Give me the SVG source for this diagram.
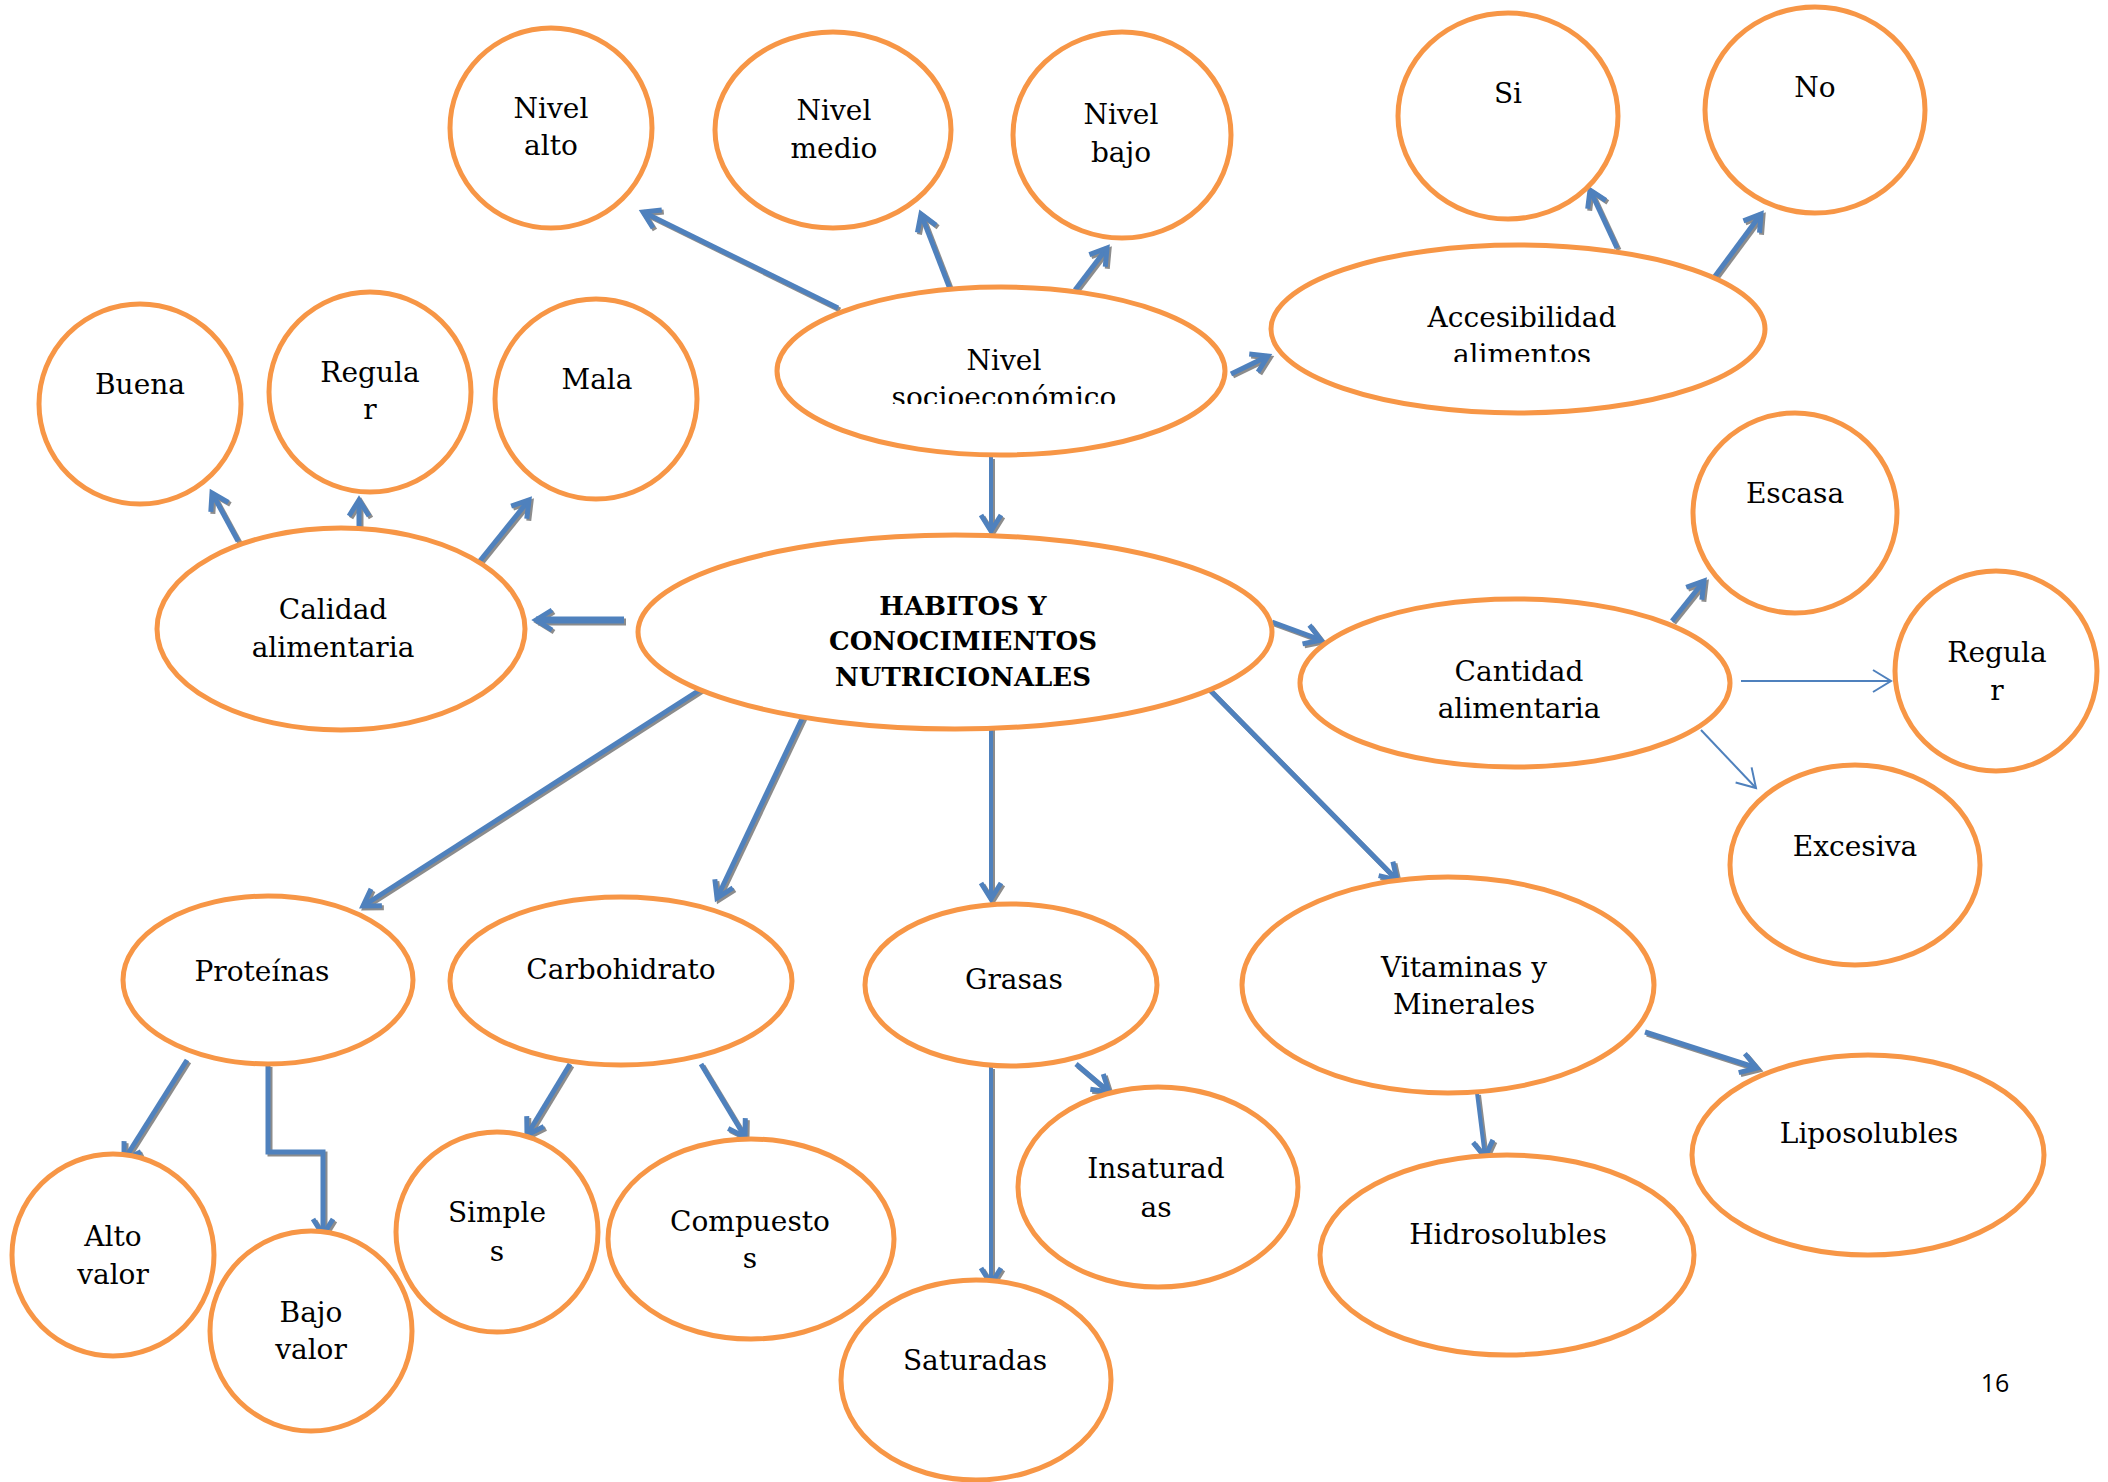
<svg xmlns="http://www.w3.org/2000/svg" width="2108" height="1482" viewBox="0 0 2108 1482">
<style>
.node ellipse{fill:#fff;stroke:#F79646;stroke-width:5}
.node text{font-family:"DejaVu Serif","Liberation Serif",serif;font-size:28px;fill:#000;text-anchor:middle}
.node text.b{font-weight:bold;font-size:26px}
.sh{fill:none;stroke:#8c8c8c;stroke-width:5;marker-end:url(#arrS)}
.ln{fill:none;stroke:#4F81BD;stroke-width:5;marker-end:url(#arrB)}
.m{stroke-width:4}
.w{stroke-width:7}
.thin{fill:none;stroke:#4F81BD;stroke-width:2;marker-end:url(#arrT)}
.pg{font-family:"Open Sans","Liberation Sans",sans-serif;font-size:25px;fill:#000;text-anchor:middle}
</style>
<defs>
<marker id="arrB" markerUnits="userSpaceOnUse" viewBox="-22 -14 26 28" markerWidth="26" markerHeight="28" refX="0" refY="0" orient="auto" overflow="visible">
<path d="M-16,-10 L0,0 L-16,10" fill="none" stroke="#4F81BD" stroke-width="5"/>
</marker>
<marker id="arrS" markerUnits="userSpaceOnUse" viewBox="-22 -14 26 28" markerWidth="26" markerHeight="28" refX="0" refY="0" orient="auto" overflow="visible">
<path d="M-16,-10 L0,0 L-16,10" fill="none" stroke="#8c8c8c" stroke-width="5"/>
</marker>
<marker id="arrT" markerUnits="userSpaceOnUse" viewBox="-22 -14 26 28" markerWidth="26" markerHeight="28" refX="0" refY="0" orient="auto" overflow="visible">
<path d="M-18,-11 L0,0 L-18,11" fill="none" stroke="#4F81BD" stroke-width="2"/>
</marker>
<clipPath id="clipSocio"><rect x="779" y="287" width="446" height="117"/></clipPath>
<clipPath id="clipAcc"><rect x="1271" y="245" width="494" height="117"/></clipPath>
</defs>
<rect width="2108" height="1482" fill="#fff"/>

<g id="connectors">
<g id="shadows" transform="translate(2,2)">
<path class="sh" d="M838,308 L643,212"/>
<path class="sh" d="M950,289 L921,214"/>
<path class="sh" d="M1075,290 L1107,248"/>
<path class="sh" d="M1231,374 L1268,356"/>
<path class="sh" d="M1617,248 L1590,190"/>
<path class="sh" d="M1707,287 L1761,214"/>
<path class="sh m" d="M991,457 L991,531"/>
<path class="sh w" d="M624,620 L536,620"/>
<path class="sh" d="M238,541 L212,493"/>
<path class="sh" d="M359,532 L359,500"/>
<path class="sh" d="M479,562 L529,500"/>
<path class="sh" d="M1272,622 L1321,640"/>
<path class="sh" d="M1672,621 L1704,581"/>
<path class="sh" d="M712,682 L363,906"/>
<path class="sh" d="M808,706 L717,898"/>
<path class="sh m" d="M991,720 L991,899"/>
<path class="sh" d="M1203,683 L1397,880"/>
<path class="sh" d="M187,1060 L124,1160"/>
<path class="sh" d="M268,1065 L268,1152 L323,1152 L323,1235"/>
<path class="sh" d="M570,1064 L527,1135"/>
<path class="sh" d="M701,1064 L745,1137"/>
<path class="sh m" d="M991,1067 L991,1284"/>
<path class="sh" d="M1076,1064 L1109,1092"/>
<path class="sh m" d="M1477,1093 L1485,1157"/>
<path class="sh" d="M1645,1032 L1757,1068"/>
</g>
<g id="lines">
<path class="ln" d="M838,308 L643,212"/>
<path class="ln" d="M950,289 L921,214"/>
<path class="ln" d="M1075,290 L1107,248"/>
<path class="ln" d="M1231,374 L1268,356"/>
<path class="ln" d="M1617,248 L1590,190"/>
<path class="ln" d="M1707,287 L1761,214"/>
<path class="ln m" d="M991,457 L991,531"/>
<path class="ln w" d="M624,620 L536,620"/>
<path class="ln" d="M238,541 L212,493"/>
<path class="ln" d="M359,532 L359,500"/>
<path class="ln" d="M479,562 L529,500"/>
<path class="ln" d="M1272,622 L1321,640"/>
<path class="ln" d="M1672,621 L1704,581"/>
<path class="thin" d="M1741,681 L1891,681"/>
<path class="thin" d="M1701,730 L1756,788"/>
<path class="ln" d="M712,682 L363,906"/>
<path class="ln" d="M808,706 L717,898"/>
<path class="ln m" d="M991,720 L991,899"/>
<path class="ln" d="M1203,683 L1397,880"/>
<path class="ln" d="M187,1060 L124,1160"/>
<path class="ln" d="M268,1065 L268,1152 L323,1152 L323,1235"/>
<path class="ln" d="M570,1064 L527,1135"/>
<path class="ln" d="M701,1064 L745,1137"/>
<path class="ln m" d="M991,1067 L991,1284"/>
<path class="ln" d="M1076,1064 L1109,1092"/>
<path class="ln m" d="M1477,1093 L1485,1157"/>
<path class="ln" d="M1645,1032 L1757,1068"/>
</g>
</g>

<g id="n-nivel-alto" class="node"><ellipse cx="551" cy="128" rx="101" ry="100"/><text x="551" y="118">Nivel</text><text x="551" y="155">alto</text></g>
<g id="n-nivel-medio" class="node"><ellipse cx="833" cy="130" rx="118" ry="98"/><text x="834" y="120">Nivel</text><text x="834" y="158">medio</text></g>
<g id="n-nivel-bajo" class="node"><ellipse cx="1122" cy="135" rx="109" ry="103"/><text x="1121" y="124">Nivel</text><text x="1121" y="162">bajo</text></g>
<g id="n-si" class="node"><ellipse cx="1508" cy="116" rx="110" ry="103"/><text x="1508" y="103">Si</text></g>
<g id="n-no" class="node"><ellipse cx="1815" cy="110" rx="110" ry="103"/><text x="1815" y="97">No</text></g>
<g id="n-nivel-socio" class="node"><ellipse cx="1001" cy="371" rx="224" ry="84"/><g clip-path="url(#clipSocio)"><text x="1004" y="370">Nivel</text><text x="1004" y="407">socioeconómico</text></g></g>
<g id="n-accesibilidad" class="node"><ellipse cx="1518" cy="329" rx="247" ry="84"/><g clip-path="url(#clipAcc)"><text x="1522" y="327">Accesibilidad</text><text x="1522" y="364">alimentos</text></g></g>
<g id="n-buena" class="node"><ellipse cx="140" cy="404" rx="101" ry="100"/><text x="140" y="394">Buena</text></g>
<g id="n-regular-cal" class="node"><ellipse cx="370" cy="392" rx="101" ry="100"/><text x="370" y="382">Regula</text><text x="370" y="419">r</text></g>
<g id="n-mala" class="node"><ellipse cx="596" cy="399" rx="101" ry="100"/><text x="597" y="389">Mala</text></g>
<g id="n-calidad" class="node"><ellipse cx="341" cy="629" rx="184" ry="101"/><text x="333" y="619">Calidad</text><text x="333" y="657">alimentaria</text></g>
<g id="n-habitos" class="node"><ellipse cx="955" cy="632" rx="317" ry="97"/><text class="b" x="963" y="615">HABITOS Y</text><text class="b" x="963" y="650">CONOCIMIENTOS</text><text class="b" x="963" y="686">NUTRICIONALES</text></g>
<g id="n-escasa" class="node"><ellipse cx="1795" cy="513" rx="102" ry="100"/><text x="1795" y="503">Escasa</text></g>
<g id="n-cantidad" class="node"><ellipse cx="1515" cy="683" rx="215" ry="84"/><text x="1519" y="681">Cantidad</text><text x="1519" y="718">alimentaria</text></g>
<g id="n-regular-cant" class="node"><ellipse cx="1996" cy="671" rx="101" ry="100"/><text x="1997" y="662">Regula</text><text x="1997" y="700">r</text></g>
<g id="n-excesiva" class="node"><ellipse cx="1855" cy="865" rx="125" ry="100"/><text x="1855" y="856">Excesiva</text></g>
<g id="n-proteinas" class="node"><ellipse cx="268" cy="980" rx="145" ry="84"/><text x="262" y="981">Proteínas</text></g>
<g id="n-carbohidrato" class="node"><ellipse cx="621" cy="981" rx="171" ry="84"/><text x="621" y="979">Carbohidrato</text></g>
<g id="n-grasas" class="node"><ellipse cx="1011" cy="985" rx="146" ry="81"/><text x="1014" y="989">Grasas</text></g>
<g id="n-vitaminas" class="node"><ellipse cx="1448" cy="985" rx="206" ry="108"/><text x="1464" y="977">Vitaminas y</text><text x="1464" y="1014">Minerales</text></g>
<g id="n-alto-valor" class="node"><ellipse cx="113" cy="1255" rx="101" ry="101"/><text x="113" y="1246">Alto</text><text x="113" y="1284">valor</text></g>
<g id="n-bajo-valor" class="node"><ellipse cx="311" cy="1331" rx="101" ry="100"/><text x="311" y="1322">Bajo</text><text x="311" y="1359">valor</text></g>
<g id="n-simples" class="node"><ellipse cx="497" cy="1232" rx="101" ry="100"/><text x="497" y="1222">Simple</text><text x="497" y="1261">s</text></g>
<g id="n-compuestos" class="node"><ellipse cx="751" cy="1239" rx="143" ry="100"/><text x="750" y="1231">Compuesto</text><text x="750" y="1268">s</text></g>
<g id="n-insaturadas" class="node"><ellipse cx="1158" cy="1187" rx="140" ry="100"/><text x="1156" y="1178">Insaturad</text><text x="1156" y="1217">as</text></g>
<g id="n-saturadas" class="node"><ellipse cx="976" cy="1380" rx="135" ry="100"/><text x="975" y="1370">Saturadas</text></g>
<g id="n-hidrosolubles" class="node"><ellipse cx="1507" cy="1255" rx="187" ry="100"/><text x="1508" y="1244">Hidrosolubles</text></g>
<g id="n-liposolubles" class="node"><ellipse cx="1868" cy="1155" rx="176" ry="100"/><text x="1869" y="1143">Liposolubles</text></g>

<text class="pg" x="1995" y="1392">16</text>
</svg>
